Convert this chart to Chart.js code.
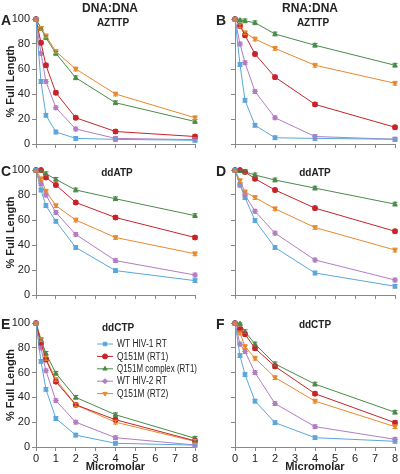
<!DOCTYPE html>
<html>
<head>
<meta charset="utf-8">
<script src="https://cdn.jsdelivr.net/npm/chart.js@4.4.0/dist/chart.umd.min.js"></script>
<style>
  body { margin: 0; background: #fff; }
  #wrap { position: relative; width: 400px; height: 474px; font-family: "Liberation Sans", Arial, sans-serif; color: #222; }
  canvas { position: absolute; }
  .lbl { position: absolute; font-weight: bold; white-space: nowrap; }
  .letter { font-size: 14px; }
  .head { font-size: 12px; transform: translateX(-50%); }
  .sub { font-size: 10px; transform: translateX(-50%); }
</style>
</head>
<body>
<div id="wrap">
  <canvas id="cA" width="200" height="155" style="left:0;top:0"></canvas>
  <canvas id="cB" width="200" height="155" style="left:200px;top:0"></canvas>
  <canvas id="cC" width="200" height="155" style="left:0;top:155px"></canvas>
  <canvas id="cD" width="200" height="155" style="left:200px;top:155px"></canvas>
  <canvas id="cE" width="200" height="164" style="left:0;top:310px"></canvas>
  <canvas id="cF" width="200" height="164" style="left:200px;top:310px"></canvas>

  <div class="lbl head" style="left:110px;top:1px">DNA:DNA</div>
  <div class="lbl head" style="left:310px;top:1px">RNA:DNA</div>
  <div class="lbl letter" style="left:1px;top:12px">A</div>
  <div class="lbl letter" style="left:216px;top:12px">B</div>
  <div class="lbl letter" style="left:1px;top:163px">C</div>
  <div class="lbl letter" style="left:216px;top:163px">D</div>
  <div class="lbl letter" style="left:1px;top:316px">E</div>
  <div class="lbl letter" style="left:216px;top:316px">F</div>
  <div class="lbl sub" style="left:113px;top:17px">AZTTP</div>
  <div class="lbl sub" style="left:313px;top:17px">AZTTP</div>
  <div class="lbl sub" style="left:117px;top:167px">ddATP</div>
  <div class="lbl sub" style="left:315px;top:167px">ddATP</div>
  <div class="lbl sub" style="left:315px;top:319px">ddCTP</div>
</div>
<script>
// concentrations (micromolar)
const conc = [0, 0.25, 0.5, 1, 2, 4, 8];

const seriesNames = ["WT HIV-1 RT", "Q151M (RT1)", "Q151M complex (RT1)", "WT HIV-2 RT", "Q151M (RT2)"];
const colors = ["#5aa6dc", "#c8232b", "#4a8a48", "#b27cc2", "#e8882c"];
const markers = ["rect", "circle", "triangle", "rectRot", "triangle"];
const rotations = [0, 0, 0, 0, 180];

// A: DNA:DNA, AZTTP
const aztDNA = [
  [100, 50, 23, 9.6, 4.5, 3.7, 3],
  [100, 81, 63, 41, 21, 10, 6],
  [100, 92.5, 85, 72.5, 53, 33, 18],
  [100, 72.5, 50, 29, 12, 4.5, 3.5],
  [100, 92.5, 86.5, 74, 60, 40, 21]
];
// B: RNA:DNA, AZTTP
const aztRNA = [
  [100, 63.5, 35, 15, 5, 4.5, 3.8],
  [100, 94.5, 87, 72, 53.5, 31.7, 13.4],
  [100, 99, 98.5, 97, 88, 79, 63],
  [100, 80, 65, 42, 21, 6, 3.8],
  [100, 94.5, 89, 84, 76.5, 63, 48.6]
];
// C: DNA:DNA, ddATP
const ddaDNA = [
  [100, 84, 71.5, 59, 38, 19.5, 11.5],
  [100, 100, 94, 88, 74, 62, 46],
  [100, 100, 97, 92.5, 84, 77, 63.5],
  [100, 89, 80, 66, 48.5, 27.5, 16],
  [100, 93, 83, 71.5, 60, 46, 33]
];
// D: RNA:DNA, ddATP
const ddaRNA = [
  [100, 88, 78, 59.6, 38, 17.6, 7],
  [100, 100, 98.5, 93, 84, 69.5, 51],
  [100, 99.5, 98.5, 96, 92, 85.5, 72.7],
  [100, 88, 80, 67, 49.5, 28, 12],
  [100, 91.5, 82.5, 78, 69, 54, 36]
];
// E: DNA:DNA, ddCTP
const ddcDNA = [
  [100, 69, 46.5, 23, 9.6, 3, 1.5],
  [100, 83.5, 70.5, 52.7, 34, 22, 5],
  [100, 86.5, 75.5, 59.4, 40, 26, 7],
  [100, 80, 61.5, 37.4, 20, 7.5, 1.6],
  [100, 86.5, 71.4, 54.5, 34, 20, 4.5]
];
// F: RNA:DNA, ddCTP
const ddcRNA = [
  [100, 73.7, 58.4, 37, 19.6, 7.5, 4.6],
  [100, 95, 91, 79.6, 65, 43, 19.6],
  [100, 99.5, 93, 83, 67, 50.7, 28],
  [100, 83, 77, 60, 35, 16.4, 6.2],
  [100, 92, 81, 71.6, 56, 37, 16.4]
];

const errSize = 1.5; // approximate error bar half-height (%)

const errorBars = {
  id: "errorBars",
  afterDatasetsDraw(chart) {
    const ctx = chart.ctx;
    const y = chart.scales.y;
    chart.data.datasets.forEach((ds, i) => {
      const meta = chart.getDatasetMeta(i);
      ctx.save();
      ctx.strokeStyle = ds.borderColor;
      ctx.lineWidth = 1;
      meta.data.forEach((pt, j) => {
        const v = ds.data[j].y;
        const top = y.getPixelForValue(Math.min(100, v + errSize));
        const bot = y.getPixelForValue(Math.max(0, v - errSize));
        ctx.beginPath();
        ctx.moveTo(pt.x, top); ctx.lineTo(pt.x, bot);
        ctx.moveTo(pt.x - 2.5, top); ctx.lineTo(pt.x + 2.5, top);
        ctx.moveTo(pt.x - 2.5, bot); ctx.lineTo(pt.x + 2.5, bot);
        ctx.stroke();
      });
      ctx.restore();
    });
  }
};

// legend drawn inside panel E
const legendInside = {
  id: "legendInside",
  afterDraw(chart) {
    if (!chart.options.plugins.legendInside) return;
    const ctx = chart.ctx;
    ctx.save();
    ctx.fillStyle = "#222";
    ctx.font = "bold 10px 'Liberation Sans', Arial, sans-serif";
    ctx.textBaseline = "middle";
    ctx.fillText("ddCTP", 102, 18);
    ctx.font = "10px 'Liberation Sans', Arial, sans-serif";
    seriesNames.forEach((name, i) => {
      const yy = 34 + i * 12.4;
      ctx.strokeStyle = colors[i];
      ctx.lineWidth = 1;
      ctx.beginPath();
      ctx.moveTo(97, yy); ctx.lineTo(113, yy);
      ctx.stroke();
      ctx.fillStyle = colors[i];
      Chart.helpers.drawPoint(ctx, {
        pointStyle: markers[i], radius: 2.5, rotation: rotations[i], borderWidth: 1
      }, 105, yy);
      ctx.fillStyle = "#222";
      const w = ctx.measureText(name).width;
      ctx.fillText(name, 117, yy + 0.5, Math.min(w * 0.84, 80));
    });
    ctx.restore();
  }
};

function makeChart(id, values, opt) {
  const datasets = values.map((vals, i) => ({
    label: seriesNames[i],
    data: conc.map((c, j) => ({ x: c, y: vals[j] })),
    borderColor: colors[i],
    backgroundColor: colors[i],
    borderWidth: 1,
    pointStyle: markers[i],
    pointRotation: rotations[i],
    pointRadius: 2.5,
    pointBorderWidth: 1,
    tension: 0,
    clip: false
  }));
  return new Chart(document.getElementById(id), {
    type: "line",
    data: { datasets: datasets },
    plugins: [errorBars, legendInside],
    options: {
      responsive: false,
      animation: false,
      layout: { padding: { top: opt.top, right: 4, left: 0, bottom: 0 } },
      plugins: {
        legend: { display: false },
        tooltip: { enabled: false },
        legendInside: opt.legend || false
      },
      scales: {
        x: {
          type: "linear", min: 0, max: 8,
          afterFit: (s) => { s.height = opt.xh; },
          border: { color: "#888" },
          grid: { drawOnChartArea: false, tickLength: 4, color: "#888" },
          ticks: {
            stepSize: 1, padding: 1, color: "#222",
            font: { size: 11, family: "'Liberation Sans', Arial" },
            callback: (v) => opt.xLabels ? v : ""
          },
          title: {
            display: !!opt.xLabels, text: "Micromolar", color: "#222",
            padding: 0,
            font: { size: 11, weight: "bold", family: "'Liberation Sans', Arial" }
          }
        },
        y: {
          type: "linear", min: 0, max: 100,
          afterFit: (s) => { s.width = opt.yw; },
          border: { color: "#888" },
          grid: { drawOnChartArea: false, tickLength: 4, color: "#888" },
          ticks: {
            stepSize: 10, padding: 2, color: "#222",
            font: { size: 11, family: "'Liberation Sans', Arial" },
            callback: (v) => (opt.yLabels && v % 20 === 0) ? v : ""
          },
          title: {
            display: !!opt.yLabels, text: "% Full Length", color: "#222",
            padding: { top: 4, bottom: 0 },
            font: { size: 11, weight: "bold", family: "'Liberation Sans', Arial" }
          }
        }
      }
    }
  });
}

makeChart("cA", aztDNA, { top: 19, xh: 11, yw: 36, yLabels: true });
makeChart("cB", aztRNA, { top: 19, xh: 11, yw: 35 });
makeChart("cC", ddaDNA, { top: 15, xh: 15, yw: 36, yLabels: true });
makeChart("cD", ddaRNA, { top: 15, xh: 15, yw: 35 });
makeChart("cE", ddcDNA, { top: 13, xh: 27, yw: 36, yLabels: true, xLabels: true, legend: true });
makeChart("cF", ddcRNA, { top: 13, xh: 27, yw: 35, xLabels: true });
</script>
</body>
</html>
